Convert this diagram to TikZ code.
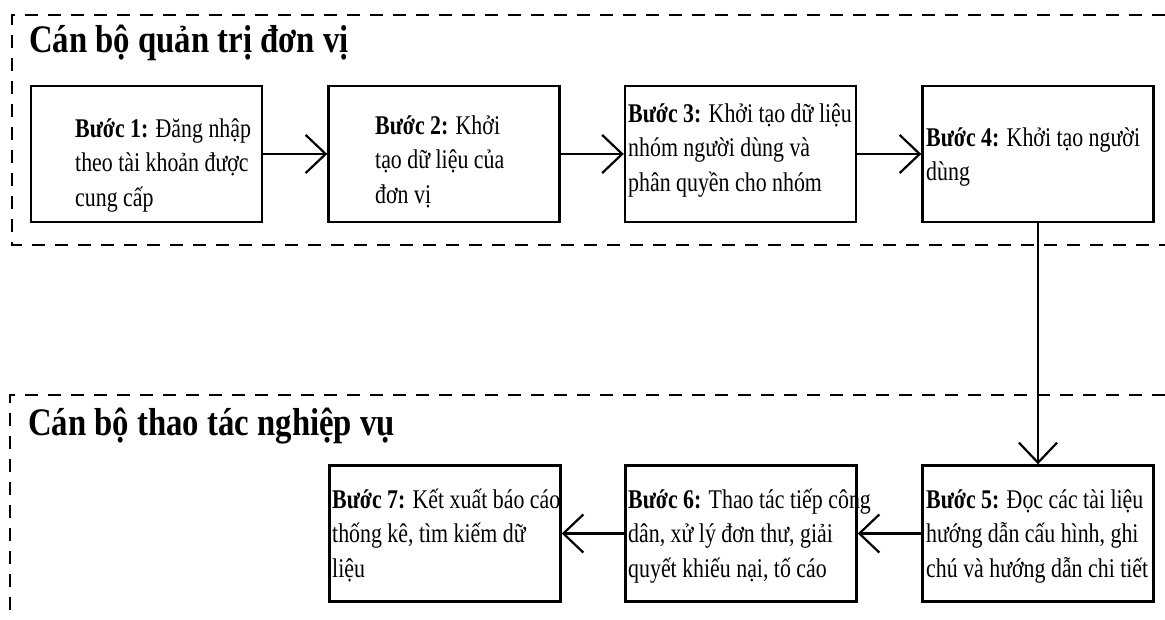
\documentclass[tikz,border=0pt]{standalone}
\usepackage{fontspec}
\setmainfont{Liberation Serif}[FakeStretch=0.81]
\newfontfamily\titlefont{Liberation Serif}[FakeStretch=0.84]
\usetikzlibrary{arrows.meta,calc}
\tikzset{
  stepbox/.style={draw=black, line width=2.4pt, rectangle, minimum width=231pt, minimum height=136pt, inner sep=0pt},
  steptext/.style={anchor=north west, inner sep=0pt, align=left, font=\fontsize{27pt}{34.5pt}\selectfont},
  titletext/.style={anchor=base west, inner sep=0pt, font=\titlefont\bfseries\fontsize{39pt}{44pt}\selectfont},
  lane/.style={draw=black, line width=2.2pt, dash pattern=on 13pt off 10pt},
  flow/.style={draw=black, line width=2.2pt, -{Straight Barb[length=20pt,width=38pt,line width=2.2pt]}}
}
\begin{document}
\begin{tikzpicture}[x=1pt,y=-1pt]
\useasboundingbox (0,0) rectangle (1165,620);
% swimlanes
\draw[lane] (1165,15) -- (12,15) -- (12,245) -- (1165,245);
\draw[lane] (1165,395) -- (10,395) -- (10,620);
\node[titletext] (t1) at (29,53) {Cán bộ quản trị đơn vị};
\node[titletext] (t2) at (28,435) {Cán bộ thao tác nghiệp vụ};
% boxes
\node[stepbox] (b1) at (146.5,154) {};
\node[stepbox] (b2) at (444,154) {};
\node[stepbox] (b3) at (740.5,154) {};
\node[stepbox] (b4) at (1038,154) {};
\node[stepbox] (b5) at (1038,533.5) {};
\node[stepbox] (b6) at (741,533.5) {};
\node[stepbox] (b7) at (445,533.5) {};
% texts (strut height 0.7*34.5 = 24.15 -> top = baseline - 24.15)
\node[steptext] (s1) at (75,112.85) {\strut\textbf{Bước 1:} Đăng nhập\\theo tài khoản được\\cung cấp};
\node[steptext] (s2) at (375,109.85) {\strut\textbf{Bước 2:} Khởi\\tạo dữ liệu của\\đơn vị};
\node[steptext] (s3) at (628,97.85) {\strut\textbf{Bước 3:} Khởi tạo dữ liệu\\nhóm người dùng và\\phân quyền cho nhóm};
\node[steptext] (s4) at (926,121.85) {\strut\textbf{Bước 4:} Khởi tạo người\\dùng};
\node[steptext] (s5) at (926,483.85) {\strut\textbf{Bước 5:} Đọc các tài liệu\\hướng dẫn cấu hình, ghi\\chú và hướng dẫn chi tiết};
\node[steptext] (s6) at (628,483.85) {\strut\textbf{Bước 6:} Thao tác tiếp công\\dân, xử lý đơn thư, giải\\quyết khiếu nại, tố cáo};
\node[steptext] (s7) at (332,483.85) {\strut\textbf{Bước 7:} Kết xuất báo cáo\\thống kê, tìm kiếm dữ\\liệu};
% connectors
\draw[flow] (b1) -- (b2);
\draw[flow] (b2) -- (b3);
\draw[flow] (b3) -- (b4);
\draw[flow] (b4) -- (b5);
\draw[flow] (b5) -- (b6);
\draw[flow] (b6) -- (b7);
\end{tikzpicture}
\end{document}
